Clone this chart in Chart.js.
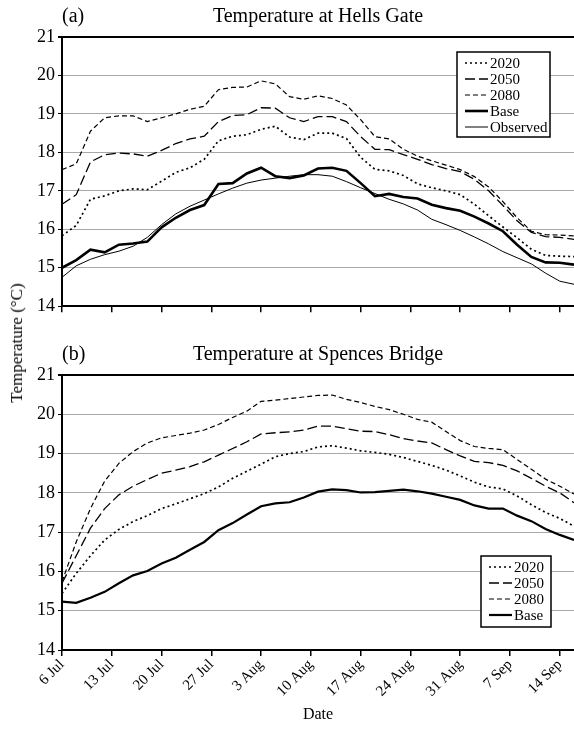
<!DOCTYPE html>
<html>
<head>
<meta charset="utf-8">
<script src="https://cdn.jsdelivr.net/npm/chart.js@4/dist/chart.umd.min.js"></script>
<style>
  body { margin: 0; background: #fff; }
  #wrap { position: relative; width: 574px; height: 729px; }
  #top { position: absolute; left: 0; top: 0; }
  #bottom { position: absolute; left: 0; top: 320px; }
  #yTitle {
    position: absolute; left: 17px; top: 343px;
    transform: translate(-50%, -50%) rotate(-90deg);
    font: 17px "Liberation Serif", serif; white-space: nowrap; color: #000;
  }
</style>
</head>
<body>
<div id="wrap">
  <canvas id="top" width="574" height="320"></canvas>
  <canvas id="bottom" width="574" height="409"></canvas>
  <div id="yTitle">Temperature (°C)</div>
</div>
<script>
// days since 6 Jul
const days = [0, 2, 4, 6, 8, 10, 12, 14, 16, 18, 20, 22, 24, 26, 28, 30, 32, 34, 36,
  38, 40, 42, 44, 46, 48, 50, 52, 54, 56, 58, 60, 62, 64, 66, 68, 70, 72];
const tickLabels = ["6 Jul", "13 Jul", "20 Jul", "27 Jul", "3 Aug", "10 Aug", "17 Aug",
  "24 Aug", "31 Aug", "7 Sep", "14 Sep"];

// (a) Hells Gate
const hg2020 = [15.83, 16.1, 16.78, 16.87, 17.0, 17.05, 17.03, 17.25, 17.48, 17.6, 17.82, 18.3, 18.42,
  18.46, 18.6, 18.68, 18.4, 18.33, 18.5, 18.5, 18.36, 17.87, 17.56, 17.52, 17.4, 17.18, 17.08, 17.0,
  16.9, 16.65, 16.35, 16.06, 15.78, 15.48, 15.32, 15.3, 15.29];
const hg2050 = [16.65, 16.9, 17.75, 17.94, 17.98, 17.96, 17.9, 18.05, 18.23, 18.35, 18.42, 18.8, 18.96,
  18.98, 19.16, 19.15, 18.9, 18.8, 18.93, 18.93, 18.8, 18.41, 18.08, 18.07, 17.94, 17.82, 17.68, 17.58,
  17.5, 17.3, 17.0, 16.62, 16.22, 15.92, 15.81, 15.79, 15.74];
const hg2080 = [17.55, 17.7, 18.55, 18.9, 18.95, 18.95, 18.8, 18.9, 19.0, 19.12, 19.2, 19.63, 19.69,
  19.7, 19.86, 19.78, 19.45, 19.38, 19.47, 19.4, 19.23, 18.85, 18.41, 18.35, 18.08, 17.9, 17.78, 17.67,
  17.55, 17.37, 17.1, 16.72, 16.3, 15.95, 15.86, 15.85, 15.83];
const hgBase = [15.0, 15.2, 15.47, 15.4, 15.6, 15.63, 15.68, 16.05, 16.3, 16.5, 16.63, 17.18, 17.2,
  17.45, 17.6, 17.38, 17.33, 17.4, 17.58, 17.6, 17.52, 17.2, 16.86, 16.92, 16.84, 16.8, 16.64, 16.55,
  16.48, 16.33, 16.15, 15.95, 15.6, 15.28, 15.14, 15.13, 15.08];
const hgObserved = [14.75, 15.05, 15.22, 15.34, 15.43, 15.56, 15.79, 16.12, 16.4, 16.6, 16.76, 16.92,
  17.07, 17.2, 17.28, 17.33, 17.38, 17.42, 17.42, 17.38, 17.24, 17.08, 16.93, 16.78, 16.66, 16.5, 16.26,
  16.12, 15.97, 15.8, 15.62, 15.42, 15.26, 15.1, 14.86, 14.65, 14.57];

// (b) Spences Bridge
const sb2020 = [15.44, 15.95, 16.4, 16.8, 17.07, 17.27, 17.42, 17.6, 17.72, 17.85, 17.98, 18.15, 18.37,
  18.55, 18.73, 18.92, 19.0, 19.05, 19.17, 19.2, 19.14, 19.07, 19.03, 18.98, 18.9, 18.8, 18.7, 18.58,
  18.43, 18.27, 18.15, 18.1, 17.92, 17.7, 17.5, 17.35, 17.15];
const sb2050 = [15.7, 16.4, 17.1, 17.6, 17.95, 18.17, 18.34, 18.5, 18.58, 18.67, 18.79, 18.96, 19.13,
  19.3, 19.5, 19.53, 19.55, 19.6, 19.7, 19.7, 19.63, 19.57, 19.56, 19.48, 19.38, 19.32, 19.27, 19.1,
  18.94, 18.8, 18.77, 18.7, 18.56, 18.37, 18.17, 18.0, 17.75];
const sb2080 = [15.74, 16.75, 17.6, 18.3, 18.75, 19.05, 19.27, 19.4, 19.46, 19.52, 19.6, 19.74, 19.92,
  20.08, 20.33, 20.36, 20.4, 20.44, 20.48, 20.49, 20.38, 20.3, 20.2, 20.12, 20.0, 19.87, 19.8, 19.56,
  19.33, 19.18, 19.13, 19.1, 18.85, 18.6, 18.35, 18.17, 17.97];
const sbBase = [15.23, 15.2, 15.33, 15.48, 15.7, 15.9, 16.01, 16.2, 16.35, 16.55, 16.75, 17.05, 17.23,
  17.45, 17.66, 17.73, 17.76, 17.88, 18.03, 18.09, 18.07, 18.01, 18.02, 18.05, 18.08, 18.04, 17.98,
  17.9, 17.82, 17.68, 17.6, 17.6, 17.42, 17.28, 17.08, 16.93, 16.8];

const serif = "'Liberation Serif', 'Times New Roman', serif";

function pts(values) {
  return values.map((v, i) => ({ x: days[i], y: v }));
}

function ds(label, values, dash, width) {
  return {
    label: label,
    data: pts(values),
    borderColor: "#000",
    borderWidth: width,
    borderDash: dash,
    pointRadius: 0,
    tension: 0,
    fill: false,
  };
}

// panel label, title and boxed legend drawn on the canvas
const panelText = {
  id: "panelText",
  afterDraw(chart, args, opts) {
    const ctx = chart.ctx;
    const area = chart.chartArea;
    ctx.save();
    ctx.fillStyle = "#000";
    ctx.textBaseline = "middle";
    ctx.font = "20px " + serif;
    ctx.textAlign = "left";
    ctx.fillText(opts.tag, area.left, opts.titleY);
    ctx.textAlign = "center";
    ctx.fillText(opts.title, (area.left + area.right) / 2, opts.titleY);

    // legend
    const box = opts.legend;
    const sets = chart.data.datasets;
    ctx.fillStyle = "#fff";
    ctx.fillRect(box.x, box.y, box.w, box.h);
    ctx.lineWidth = 1.5;
    ctx.strokeStyle = "#000";
    ctx.strokeRect(box.x, box.y, box.w, box.h);
    ctx.font = "15px " + serif;
    ctx.textAlign = "left";
    sets.forEach((s, i) => {
      const y = box.y + 11 + i * 16;
      ctx.beginPath();
      ctx.setLineDash(s.borderDash || []);
      ctx.lineWidth = s.borderWidth;
      ctx.moveTo(box.x + 8, y);
      ctx.lineTo(box.x + 31, y);
      ctx.stroke();
      ctx.setLineDash([]);
      ctx.fillStyle = "#000";
      ctx.fillText(s.label, box.x + 33, y + 1);
    });
    ctx.restore();
  },
};

function makeOptions(showLabels, xHeight, padTop, textOpts) {
  return {
    responsive: false,
    animation: false,
    layout: { padding: { top: padTop, left: 0, right: 0, bottom: 0 } },
    plugins: {
      legend: { display: false },
      tooltip: { enabled: false },
      panelText: textOpts,
    },
    scales: {
      x: {
        type: "linear",
        min: 0,
        max: 72,
        afterFit(scale) { scale.height = xHeight; },
        ticks: {
          display: showLabels,
          stepSize: 7,
          includeBounds: false,
          autoSkip: false,
          maxRotation: 45,
          minRotation: 45,
          color: "#000",
          font: { family: serif, size: 15 },
          padding: 0,
          callback: function (value) {
            return tickLabels[value / 7];
          },
        },
        grid: {
          drawOnChartArea: false,
          drawTicks: true,
          tickLength: 6,
          tickColor: "#000",
          lineWidth: 1.5,
        },
        border: { display: true, color: "#000", width: 2 },
        title: {
          display: showLabels,
          text: "Date",
          color: "#000",
          font: { family: serif, size: 16 },
          padding: { top: 5, bottom: 5 },
        },
      },
      y: {
        min: 14,
        max: 21,
        afterFit(scale) { scale.width = 62; },
        ticks: {
          stepSize: 1,
          color: "#000",
          font: { family: serif, size: 18 },
          padding: 3,
        },
        grid: {
          color: (c) => (c.tick && c.tick.value === 21 ? "#000" : "#a8a8a8"),
          lineWidth: (c) => (c.tick && c.tick.value === 21 ? 2 : 1),
          tickColor: "#000",
          tickLength: 4,
        },
        border: { display: true, color: "#000", width: 2 },
      },
    },
  };
}

new Chart(document.getElementById("top"), {
  type: "line",
  data: {
    datasets: [
      ds("2020", hg2020, [2, 3], 1.7),
      ds("2050", hg2050, [10, 4], 1.3),
      ds("2080", hg2080, [5, 3], 1.2),
      ds("Base", hgBase, [], 2.6),
      ds("Observed", hgObserved, [], 1),
    ],
  },
  options: makeOptions(false, 13, 37, {
    tag: "(a)",
    title: "Temperature at Hells Gate",
    titleY: 17,
    legend: { x: 457, y: 52, w: 93, h: 85 },
  }),
  plugins: [panelText],
});

new Chart(document.getElementById("bottom"), {
  type: "line",
  data: {
    datasets: [
      ds("2020", sb2020, [2, 3], 1.7),
      ds("2050", sb2050, [10, 4], 1.3),
      ds("2080", sb2080, [5, 3], 1.2),
      ds("Base", sbBase, [], 2.2),
    ],
  },
  options: makeOptions(true, 79, 55, {
    tag: "(b)",
    title: "Temperature at Spences Bridge",
    titleY: 35,
    legend: { x: 481, y: 236, w: 70, h: 71 },
  }),
  plugins: [panelText],
});
</script>
</body>
</html>
